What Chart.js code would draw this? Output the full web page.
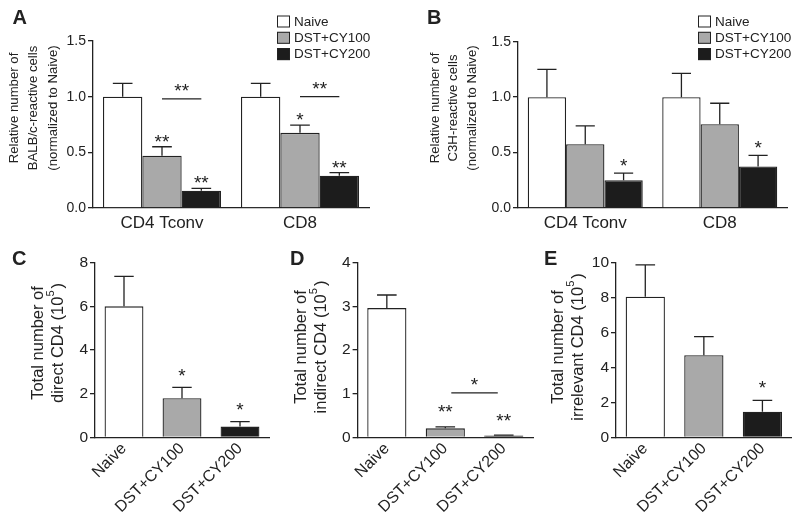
<!DOCTYPE html>
<html>
<head>
<meta charset="utf-8">
<script src="https://cdn.jsdelivr.net/npm/chart.js@4.4.1/dist/chart.umd.min.js"></script>
<style>
  html, body { margin: 0; padding: 0; background: #fff; }
  #fig { position: relative; width: 800px; height: 526px; overflow: hidden; }
  canvas { position: absolute; }
</style>
</head>
<body>
<div id="fig">
  <canvas id="panelA" width="400" height="255" style="left:0;top:0"></canvas>
  <canvas id="panelB" width="400" height="255" style="left:400px;top:0"></canvas>
  <canvas id="panelC" width="270" height="286" style="left:0;top:240px"></canvas>
  <canvas id="panelD" width="270" height="286" style="left:270px;top:240px"></canvas>
  <canvas id="panelE" width="270" height="286" style="left:530px;top:240px"></canvas>
</div>
<script>
const FONT = '"Liberation Sans", Arial, Helvetica, sans-serif';
const INK = "#222";

// top panels: relative numbers by T cell subset
const subsets = ["CD4 Tconv", "CD8"];
const seriesLabels = ["Naive", "DST+CY100", "DST+CY200"];
const seriesColors = ["#ffffff", "#a9a9a9", "#1c1c1c"];
const relTicks = [0, 0.5, 1.0, 1.5];

// A - BALB/c-reactive
const balbNaive = [1.0, 1.0];
const balbNaiveErr = [0.12, 0.12];
const balbCy100 = [0.47, 0.675];
const balbCy100Err = [0.08, 0.07];
const balbCy200 = [0.155, 0.29];
const balbCy200Err = [0.022, 0.027];

// B - C3H-reactive
const c3hNaive = [1.0, 1.0];
const c3hNaiveErr = [0.25, 0.215];
const c3hCy100 = [0.575, 0.755];
const c3hCy100Err = [0.165, 0.19];
const c3hCy200 = [0.25, 0.375];
const c3hCy200Err = [0.065, 0.1];

// bottom panels: totals (10^5)
const groups = ["Naive", "DST+CY100", "DST+CY200"];
const directCD4 = [6.0, 1.79, 0.49];
const directCD4Err = [1.37, 0.5, 0.23];
const directTicks = [0, 2, 4, 6, 8];
const indirectCD4 = [2.96, 0.205, 0.04];
const indirectCD4Err = [0.3, 0.035, 0.01];
const indirectTicks = [0, 1, 2, 3, 4];
const irrelevantCD4 = [8.05, 4.7, 1.46];
const irrelevantCD4Err = [1.82, 1.07, 0.66];
const irrelevantTicks = [0, 2, 4, 6, 8, 10];

// significance marks: [dataset, category, mark]
const balbStars = [[1, 0, "**"], [2, 0, "**"], [1, 1, "*"], [2, 1, "**"]];
const balbBrackets = [[[1, 0], [2, 0], 0.98, "**"], [[1, 1], [2, 1], 1.0, "**"]];
const c3hStars = [[2, 0, "*"], [2, 1, "*"]];
const directStars = [[0, 1, "*"], [0, 2, "*"]];
const indirectStars = [[0, 1, "**"], [0, 2, "**"]];
const indirectBrackets = [[[0, 1], [0, 2], 1.02, "*"]];
const irrelevantStars = [[0, 2, "*"]];

function drawMark(ctx, mark, x, cy) {
  ctx.font = "19px " + FONT;
  ctx.textAlign = "center";
  ctx.textBaseline = "alphabetic";
  ctx.fillText(mark, x, cy + 10.5);
}

// text line with optional "^" superscript char
function drawLine(ctx, text, size) {
  const parts = text.split("^");
  if (parts.length === 1) { ctx.fillText(text, 0, 0); return; }
  const pre = parts[0], sup = parts[1][0], post = parts[1].slice(1);
  ctx.font = size + "px " + FONT;
  const w1 = ctx.measureText(pre).width;
  const w3 = ctx.measureText(post).width;
  ctx.font = Math.round(size * 0.65) + "px " + FONT;
  const w2 = ctx.measureText(sup).width;
  let x = -(w1 + w2 + 2 + w3) / 2;
  ctx.textAlign = "left";
  ctx.font = size + "px " + FONT;
  ctx.fillText(pre, x, 0);
  x += w1;
  ctx.font = Math.round(size * 0.65) + "px " + FONT;
  ctx.fillText(sup, x, -size * 0.4);
  x += w2 + 2;
  ctx.font = size + "px " + FONT;
  ctx.fillText(post, x, 0);
}

const annotPlugin = {
  id: "annot",
  afterDatasetsDraw(chart, args, o) {
    const ctx = chart.ctx;
    const ys = chart.scales.y;
    ctx.save();
    ctx.strokeStyle = INK;
    ctx.fillStyle = INK;
    ctx.lineWidth = 1.3;
    // error bars (upper only)
    chart.data.datasets.forEach((ds, di) => {
      chart.getDatasetMeta(di).data.forEach((bar, i) => {
        const top = ys.getPixelForValue(ds.data[i] + ds.errors[i]);
        const cap = bar.width / 4;
        ctx.beginPath();
        ctx.moveTo(bar.x, bar.y);
        ctx.lineTo(bar.x, top);
        ctx.moveTo(bar.x - cap, top);
        ctx.lineTo(bar.x + cap, top);
        ctx.stroke();
      });
    });
    (o.stars || []).forEach(([di, i, mark]) => {
      const ds = chart.data.datasets[di];
      const bar = chart.getDatasetMeta(di).data[i];
      const top = ys.getPixelForValue(ds.data[i] + ds.errors[i]);
      drawMark(ctx, mark, bar.x, top - o.starGap);
    });
    (o.brackets || []).forEach(([a, b, v, mark]) => {
      const ba = chart.getDatasetMeta(a[0]).data[a[1]];
      const bb = chart.getDatasetMeta(b[0]).data[b[1]];
      const yy = ys.getPixelForValue(v);
      const inset = o.bracketInset || 0;
      ctx.beginPath();
      ctx.moveTo(ba.x + inset, yy);
      ctx.lineTo(bb.x - inset, yy);
      ctx.stroke();
      drawMark(ctx, mark, (ba.x + bb.x) / 2, yy - 12);
    });
    ctx.restore();
  },
  afterDraw(chart, args, o) {
    const ctx = chart.ctx;
    ctx.save();
    ctx.fillStyle = INK;
    // panel letter
    ctx.font = "bold 20px " + FONT;
    ctx.textAlign = "left";
    ctx.textBaseline = "alphabetic";
    ctx.fillText(o.letter.text, o.letter.x, o.letter.y);
    // y title, rotated
    o.title.lines.forEach((line, k) => {
      ctx.save();
      ctx.translate(o.title.xs[k], o.title.y);
      ctx.rotate(-Math.PI / 2);
      ctx.font = o.title.size + "px " + FONT;
      ctx.textAlign = "center";
      ctx.textBaseline = "middle";
      drawLine(ctx, line, o.title.size);
      ctx.restore();
    });
    // legend
    if (o.legend) {
      const L = o.legend;
      chart.data.datasets.forEach((ds, k) => {
        const y = L.y + k * L.gap;
        ctx.fillStyle = ds.backgroundColor;
        ctx.fillRect(L.x, y, 13, 12);
        ctx.strokeStyle = INK;
        ctx.lineWidth = 1;
        ctx.strokeRect(L.x + 0.5, y + 0.5, 12, 11);
        ctx.fillStyle = INK;
        ctx.font = "13.5px " + FONT;
        ctx.textAlign = "left";
        ctx.textBaseline = "middle";
        ctx.fillText(ds.label, L.x + 17, y + 6.5);
      });
    }
    ctx.restore();
  }
};

function axes(ticks, fmt, o) {
  return {
    x: {
      grid: { display: false, drawTicks: false },
      border: { display: true, color: INK, width: 1.3 },
      ticks: {
        color: INK,
        font: { family: FONT, size: o.xFont },
        padding: o.xPad,
        minRotation: o.rot,
        maxRotation: o.rot,
        autoSkip: false
      },
      afterFit(s) { s.height = o.xHeight; }
    },
    y: {
      min: 0,
      max: ticks[ticks.length - 1],
      afterBuildTicks(s) { s.ticks = ticks.map(v => ({ value: v })); },
      grid: { display: true, drawOnChartArea: false, drawTicks: true, tickLength: 5, color: INK, lineWidth: 1.3 },
      border: { display: true, color: INK, width: 1.3 },
      ticks: {
        color: INK,
        font: { family: FONT, size: o.yFont },
        padding: 2,
        callback: v => fmt(v)
      },
      afterFit(s) { s.width = o.yWidth; }
    }
  };
}

function groupedChart(id, values, errs, o) {
  return new Chart(document.getElementById(id), {
    type: "bar",
    data: {
      labels: subsets,
      datasets: values.map((v, k) => ({
        label: seriesLabels[k],
        data: v,
        errors: errs[k],
        backgroundColor: seriesColors[k],
        borderColor: INK,
        borderWidth: 1.3,
        categoryPercentage: 0.855,
        barPercentage: 1
      }))
    },
    options: {
      responsive: false,
      animation: false,
      events: [],
      layout: { padding: { top: o.top, right: o.right, bottom: 0, left: 0 } },
      plugins: { legend: { display: false }, tooltip: { enabled: false }, annot: o.annot },
      scales: axes(relTicks, v => v.toFixed(1), { xFont: 17, xPad: 5, rot: 0, xHeight: o.xHeight, yFont: 14, yWidth: o.yWidth })
    },
    plugins: [annotPlugin]
  });
}

function singleChart(id, values, errs, ticks, o) {
  return new Chart(document.getElementById(id), {
    type: "bar",
    data: {
      labels: groups,
      datasets: [{
        label: "Total",
        data: values,
        errors: errs,
        backgroundColor: seriesColors,
        borderColor: INK,
        borderWidth: 1.3,
        categoryPercentage: 0.67,
        barPercentage: 1
      }]
    },
    options: {
      responsive: false,
      animation: false,
      events: [],
      layout: { padding: { top: 22.7, right: o.right, bottom: 0, left: 0 } },
      plugins: { legend: { display: false }, tooltip: { enabled: false }, annot: o.annot },
      scales: axes(ticks, v => String(v), { xFont: 16, xPad: 2, rot: 45, xHeight: 88.7, yFont: 15.5, yWidth: o.yWidth })
    },
    plugins: [annotPlugin]
  });
}

groupedChart("panelA", [balbNaive, balbCy100, balbCy200], [balbNaiveErr, balbCy100Err, balbCy200Err], {
  top: 41, right: 31, xHeight: 47, yWidth: 93,
  annot: {
    stars: balbStars, brackets: balbBrackets, starGap: 9.5,
    letter: { text: "A", x: 12.5, y: 24 },
    title: { lines: ["Relative number of", "BALB/c-reactive cells", "(normalized to Naive)"], xs: [14, 33.5, 53], y: 108, size: 13.2 },
    legend: { x: 277, y: 15.5, gap: 16.3 }
  }
});

groupedChart("panelB", [c3hNaive, c3hCy100, c3hCy200], [c3hNaiveErr, c3hCy100Err, c3hCy200Err], {
  top: 41.7, right: 13, xHeight: 47, yWidth: 118,
  annot: {
    stars: c3hStars, starGap: 12,
    letter: { text: "B", x: 27, y: 24 },
    title: { lines: ["Relative number of", "C3H-reactive cells", "(normalized to Naive)"], xs: [35, 53.5, 72], y: 108, size: 13.2 },
    legend: { x: 298, y: 15.5, gap: 16.3 }
  }
});

singleChart("panelC", directCD4, directCD4Err, directTicks, {
  right: 1, yWidth: 95,
  annot: {
    stars: directStars, starGap: 16,
    letter: { text: "C", x: 12, y: 25 },
    title: { lines: ["Total number of", "direct CD4 (10^5)"], xs: [38, 58], y: 103, size: 16.5 }
  }
});

singleChart("panelD", indirectCD4, indirectCD4Err, indirectTicks, {
  right: 7, yWidth: 87.6,
  annot: {
    stars: indirectStars, brackets: indirectBrackets, bracketInset: 6, starGap: 19,
    letter: { text: "D", x: 20, y: 25 },
    title: { lines: ["Total number of", "indirect CD4 (10^5)"], xs: [31, 51], y: 107, size: 16.5 }
  }
});

singleChart("panelE", irrelevantCD4, irrelevantCD4Err, irrelevantTicks, {
  right: 8.3, yWidth: 86,
  annot: {
    stars: irrelevantStars, starGap: 17,
    letter: { text: "E", x: 14, y: 25 },
    title: { lines: ["Total number of", "irrelevant CD4 (10^5)"], xs: [28, 48], y: 107, size: 16.5 }
  }
});
</script>
</body>
</html>
